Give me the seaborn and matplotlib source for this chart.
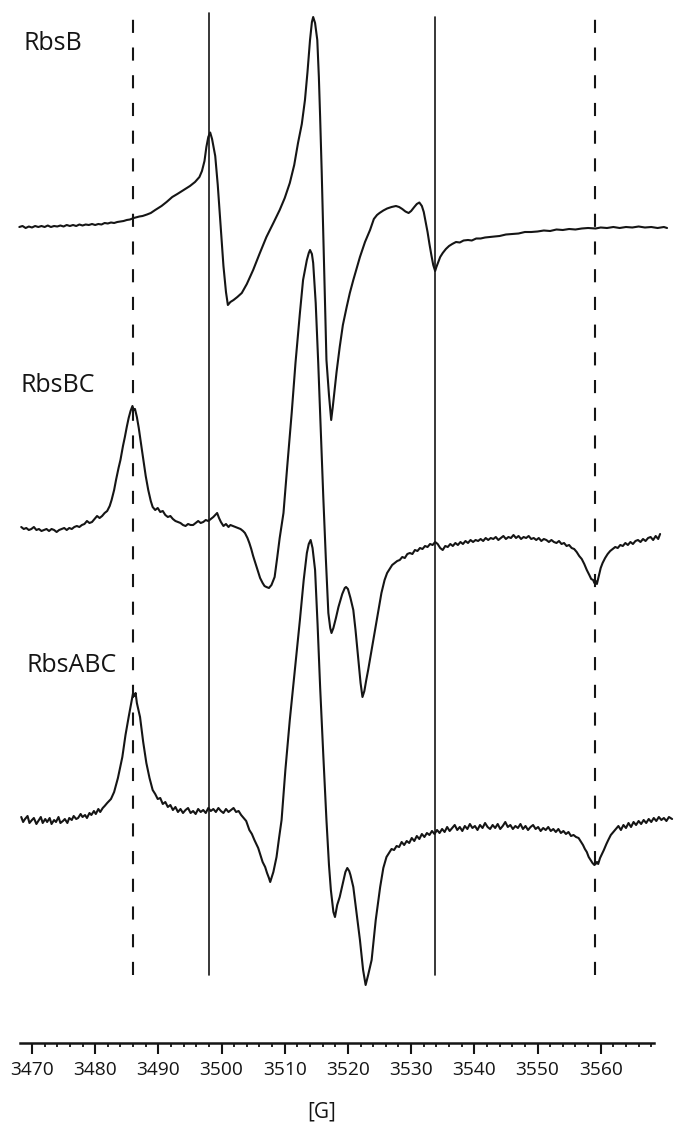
import numpy as np
import pandas as pd
import seaborn as sns
import matplotlib.pyplot as plt
from matplotlib.ticker import FixedLocator

# (field in G, first-derivative signal in a.u., 0 = baseline)
rbsb_points = [
    (3468.0, 0), (3468.5, 1), (3469.0, -1), (3469.5, 0.5), (3470, -0.5), (3470.5, 1), (3471, 0),
    (3471.5, 1), (3472, 0), (3472.5, 1.5), (3473, 0), (3473.5, 1), (3474, 0.5), (3474.5, 1.5),
    (3475, 0.5), (3475.5, 2), (3476, 1), (3476.5, 2), (3477, 1), (3477.5, 2.5), (3478, 1.5),
    (3478.5, 2.5), (3479, 2), (3479.5, 3), (3480, 2), (3480.5, 3), (3481, 2.5), (3481.5, 4),
    (3482, 3.5), (3482.5, 4.5), (3483, 4), (3483.5, 5), (3484, 5.5), (3484.5, 6), (3485, 7),
    (3485.5, 7.5), (3486.1, 9), (3487, 10.5), (3487.5, 11), (3488.2, 12.5), (3488.8, 14),
    (3489.5, 17), (3490.5, 21), (3491.3, 25), (3492.2, 30), (3493.0, 33), (3494, 37), (3495, 41),
    (3495.8, 45), (3496.5, 50), (3496.9, 56), (3497.3, 66), (3497.6, 80), (3497.9, 90),
    (3498.2, 94.5), (3498.5, 88), (3499.0, 71), (3499.4, 42), (3499.75, 11), (3500.3, -39),
    (3500.7, -65), (3501.0, -78), (3501.4, -75), (3501.9, -73), (3502.5, -70), (3503.2, -66),
    (3504.0, -57), (3505.0, -43), (3506.0, -27), (3507.1, -10), (3508.2, 4), (3509.2, 17),
    (3510.0, 29), (3510.8, 44), (3511.5, 62), (3512.1, 84), (3512.7, 103), (3513.2, 127),
    (3513.6, 155), (3514.0, 187), (3514.3, 205), (3514.5, 210), (3514.8, 204), (3515.15, 187),
    (3515.4, 150), (3515.6, 110), (3515.85, 55), (3516.1, -6), (3516.35, -70), (3516.6, -133),
    (3517.0, -168), (3517.35, -193), (3517.6, -180), (3517.8, -168), (3518.2, -145),
    (3518.7, -120), (3519.2, -98), (3519.8, -80), (3520.3, -66), (3520.85, -53), (3521.4, -41),
    (3521.9, -30), (3522.7, -15), (3523.5, -3), (3524.1, 8), (3524.6, 12), (3525.0, 14),
    (3525.6, 16.5), (3526.2, 18.5), (3526.9, 20), (3527.6, 21), (3528.1, 20), (3528.6, 18),
    (3529.1, 15.5), (3529.6, 14), (3530.0, 16), (3530.5, 20), (3530.9, 23), (3531.3, 24.5),
    (3531.7, 21), (3532.0, 15), (3532.3, 5), (3532.6, -5), (3532.9, -17), (3533.2, -28),
    (3533.5, -38), (3533.8, -44), (3534.0, -40), (3534.3, -35), (3534.6, -30), (3535.0, -26),
    (3535.5, -22), (3536, -19), (3536.5, -17), (3537.1, -15), (3537.7, -15.5), (3538.3, -13.5),
    (3539, -13), (3539.6, -13.5), (3540.3, -11.5), (3541, -11.5), (3541.7, -10.5), (3542.4, -10),
    (3543.2, -9.5), (3544, -9), (3545, -7.5), (3546, -7), (3547, -6.5), (3548, -5), (3549, -5),
    (3550, -4.5), (3551, -3.5), (3552, -4), (3553, -2.5), (3554, -3), (3555, -2), (3556, -2.5),
    (3557, -1.5), (3558, -1), (3559.2, -1.5), (3560, -0.5), (3561, -1), (3562, 0), (3563, -1),
    (3564, 0), (3565, -0.5), (3566, 0.5), (3567, -0.5), (3568, 0), (3569, -1), (3570, 0),
    (3570.5, -1),
]

rbsbc_points = [
    (3468.3, 1), (3468.7, -1), (3469.1, 0), (3469.5, -2), (3469.9, -1), (3470.3, 1), (3470.7, -2),
    (3471.1, -1), (3471.5, -3), (3471.9, -2), (3472.3, -1), (3472.7, -3), (3473.1, -1),
    (3473.5, -2), (3473.9, -4), (3474.3, -2), (3474.7, -1), (3475.1, 0), (3475.5, -2),
    (3475.9, 0), (3476.3, -1), (3476.7, 1), (3477.1, 2), (3477.5, 1), (3477.9, 3), (3478.3, 4),
    (3478.7, 7), (3479.1, 5), (3479.5, 6), (3479.9, 9), (3480.3, 12), (3480.7, 10), (3481.1, 12),
    (3481.5, 15), (3481.9, 17), (3482.3, 22), (3482.6, 28), (3483.0, 38), (3483.3, 48),
    (3483.7, 60), (3484.0, 68), (3484.4, 82), (3484.7, 91), (3485.0, 101), (3485.3, 110),
    (3485.6, 117), (3485.9, 122), (3486.1, 118), (3486.3, 119), (3486.6, 111), (3486.9, 100),
    (3487.1, 91), (3487.4, 78), (3487.7, 65), (3488.0, 52), (3488.4, 38), (3488.8, 27),
    (3489.1, 21), (3489.5, 18), (3489.9, 20), (3490.3, 16), (3490.7, 17), (3491.1, 13),
    (3491.5, 11), (3491.9, 12), (3492.3, 9), (3492.7, 7), (3493.1, 6), (3493.5, 5), (3493.9, 3),
    (3494.3, 2), (3494.7, 4), (3495.1, 3), (3495.5, 3), (3495.9, 5), (3496.3, 7), (3496.7, 5),
    (3497.1, 6), (3497.5, 8), (3497.9, 7), (3498.3, 9), (3498.7, 11), (3499.0, 13), (3499.3, 15),
    (3499.6, 10), (3499.9, 6), (3500.3, 2), (3500.7, 4), (3501.1, 1), (3501.4, 3), (3501.8, 2),
    (3502.2, 1), (3502.6, 0), (3503.0, -1), (3503.4, -3), (3503.7, -5), (3504.1, -10),
    (3504.4, -15), (3504.7, -21), (3505.0, -28), (3505.4, -36), (3505.8, -44), (3506.1, -50),
    (3506.5, -55), (3506.8, -58), (3507.1, -59), (3507.5, -60), (3507.9, -57), (3508.4, -49),
    (3508.8, -30), (3509.2, -10), (3509.8, 15), (3510.4, 62), (3511.1, 115), (3511.7, 165),
    (3512.4, 215), (3512.9, 248), (3513.5, 268), (3513.8, 275), (3514.0, 278), (3514.3, 274),
    (3514.5, 265), (3514.9, 225), (3515.3, 165), (3515.7, 98), (3516.1, 31), (3516.5, -30),
    (3516.9, -85), (3517.2, -100), (3517.4, -105), (3517.7, -100), (3518.1, -90), (3518.5, -79),
    (3519.1, -66), (3519.5, -60), (3519.7, -59), (3520.0, -61), (3520.4, -70), (3520.85, -82),
    (3521.2, -102), (3521.65, -132), (3522.0, -155), (3522.3, -169), (3522.6, -163),
    (3522.9, -152), (3523.2, -142), (3523.8, -120), (3524.55, -92), (3525.3, -65), (3525.8, -52),
    (3526.2, -45), (3526.6, -41), (3527.0, -37), (3527.4, -35), (3527.8, -33), (3528.2, -32),
    (3528.6, -29), (3529.0, -30), (3529.4, -26), (3529.8, -25), (3530.2, -26), (3530.6, -22),
    (3531.0, -23), (3531.4, -20), (3531.8, -21), (3532.2, -18), (3532.6, -19), (3533.0, -16),
    (3533.4, -17), (3533.8, -14), (3534.2, -16), (3534.6, -20), (3535.0, -22), (3535.4, -18),
    (3535.8, -19), (3536.2, -16), (3536.6, -18), (3537.0, -15), (3537.4, -17), (3537.8, -14),
    (3538.2, -16), (3538.6, -13), (3539.0, -15), (3539.4, -12), (3539.8, -14), (3540.2, -12),
    (3540.6, -13), (3541.0, -11), (3541.4, -13), (3541.8, -10), (3542.2, -12), (3542.6, -10),
    (3543.0, -11), (3543.4, -9), (3543.8, -12), (3544.2, -10), (3544.6, -8), (3545.0, -11),
    (3545.4, -9), (3545.8, -10), (3546.2, -7), (3546.6, -10), (3547.0, -8), (3547.4, -11),
    (3547.8, -9), (3548.2, -10), (3548.6, -8), (3549.0, -11), (3549.4, -10), (3549.8, -12),
    (3550.2, -10), (3550.6, -13), (3551.0, -11), (3551.4, -12), (3551.8, -14), (3552.2, -12),
    (3552.6, -14), (3553.0, -15), (3553.4, -13), (3553.8, -16), (3554.2, -15), (3554.6, -18),
    (3555.0, -17), (3555.4, -20), (3555.8, -21), (3556.2, -24), (3556.6, -28), (3557.0, -31),
    (3557.4, -36), (3557.8, -42), (3558.2, -47), (3558.5, -51), (3558.8, -52), (3559.0, -55),
    (3559.2, -53), (3559.4, -56), (3559.7, -48), (3560.0, -40), (3560.3, -35), (3560.7, -30),
    (3561.1, -26), (3561.5, -23), (3561.9, -21), (3562.3, -19), (3562.7, -20), (3563.1, -17),
    (3563.5, -18), (3563.9, -15), (3564.3, -17), (3564.7, -14), (3565.1, -16), (3565.5, -13),
    (3565.9, -12), (3566.3, -14), (3566.7, -11), (3567.1, -13), (3567.5, -10), (3567.9, -9),
    (3568.3, -12), (3568.7, -8), (3569.1, -11), (3569.4, -6),
]

rbsabc_points = [
    (3468.3, 3), (3468.6, -2), (3468.9, 1), (3469.3, 4), (3469.6, -3), (3470.0, 0), (3470.3, 2),
    (3470.7, -4), (3471.0, -1), (3471.4, 3), (3471.7, -3), (3472.1, 1), (3472.4, -2),
    (3472.8, 2), (3473.1, -4), (3473.5, 0), (3473.8, -2), (3474.2, 3), (3474.5, -3), (3474.9, -1),
    (3475.2, 1), (3475.6, -3), (3475.9, 2), (3476.3, 0), (3476.6, 4), (3477.0, 1), (3477.3, 2),
    (3477.7, 6), (3478.0, 3), (3478.4, 5), (3478.7, 2), (3479.1, 7), (3479.4, 5), (3479.8, 9),
    (3480.1, 6), (3480.5, 11), (3480.8, 8), (3481.2, 12), (3481.5, 14), (3481.9, 17),
    (3482.5, 21), (3483.0, 28), (3483.6, 42), (3484.3, 63), (3484.8, 85), (3485.3, 103),
    (3485.8, 120), (3486.0, 127), (3486.2, 124), (3486.4, 127), (3486.6, 117), (3487.1, 103),
    (3487.6, 78), (3488.1, 57), (3488.6, 42), (3489.1, 30), (3489.5, 26), (3489.9, 21),
    (3490.3, 22), (3490.7, 16), (3491.1, 18), (3491.5, 13), (3491.9, 15), (3492.3, 10),
    (3492.7, 13), (3493.1, 8), (3493.5, 11), (3493.9, 7), (3494.3, 10), (3494.7, 12), (3495.1, 7),
    (3495.5, 9), (3495.9, 6), (3496.3, 11), (3496.7, 8), (3497.1, 10), (3497.5, 7), (3497.9, 12),
    (3498.3, 9), (3498.7, 11), (3499.1, 8), (3499.5, 12), (3499.9, 9), (3500.3, 7), (3500.7, 11),
    (3501.1, 8), (3501.5, 10), (3501.9, 12), (3502.3, 8), (3502.7, 9), (3503.1, 5), (3503.5, 2),
    (3503.9, -1), (3504.4, -10), (3504.8, -14), (3505.2, -20), (3505.8, -28), (3506.2, -36),
    (3506.5, -42), (3506.9, -47), (3507.2, -53), (3507.5, -58), (3507.7, -62), (3508.0, -56),
    (3508.2, -52), (3508.7, -37), (3509.1, -18), (3509.5, 0), (3510.1, 50), (3510.8, 100),
    (3511.6, 150), (3512.4, 200), (3513.0, 240), (3513.5, 267), (3513.8, 276), (3514.1, 280),
    (3514.4, 272), (3514.8, 250), (3515.2, 195), (3515.6, 133), (3516.1, 65), (3516.6, 0),
    (3517.0, -45), (3517.3, -70), (3517.7, -92), (3517.95, -97), (3518.3, -85), (3518.7, -77),
    (3519.3, -60), (3519.6, -52), (3519.9, -48), (3520.2, -51), (3520.4, -55), (3520.85, -67),
    (3521.4, -95), (3521.9, -120), (3522.4, -150), (3522.8, -165), (3523.2, -155),
    (3523.75, -140), (3524.1, -118), (3524.4, -100), (3525.1, -67), (3525.6, -48), (3526.1, -37),
    (3526.5, -33), (3526.9, -29), (3527.3, -30), (3527.7, -26), (3528.1, -27), (3528.5, -22),
    (3528.9, -25), (3529.3, -21), (3529.7, -23), (3530.1, -18), (3530.5, -21), (3530.9, -16),
    (3531.3, -19), (3531.7, -14), (3532.1, -17), (3532.5, -13), (3532.9, -15), (3533.3, -11),
    (3533.7, -14), (3534.1, -10), (3534.5, -13), (3534.9, -9), (3535.3, -12), (3535.7, -7),
    (3536.1, -11), (3536.5, -8), (3536.9, -5), (3537.3, -10), (3537.7, -7), (3538.1, -11),
    (3538.5, -6), (3538.9, -9), (3539.3, -4), (3539.7, -8), (3540.1, -6), (3540.5, -10),
    (3540.9, -5), (3541.3, -8), (3541.7, -3), (3542.1, -7), (3542.5, -9), (3542.9, -5),
    (3543.3, -8), (3543.7, -4), (3544.1, -9), (3544.5, -6), (3544.9, -2), (3545.3, -7),
    (3545.7, -5), (3546.1, -9), (3546.5, -6), (3546.9, -8), (3547.3, -4), (3547.7, -9),
    (3548.1, -6), (3548.5, -10), (3548.9, -7), (3549.3, -5), (3549.7, -9), (3550.1, -7),
    (3550.5, -11), (3550.9, -8), (3551.3, -10), (3551.7, -7), (3552.1, -11), (3552.5, -9),
    (3552.9, -12), (3553.3, -9), (3553.7, -13), (3554.1, -11), (3554.5, -14), (3554.9, -12),
    (3555.3, -16), (3555.7, -15), (3556.1, -17), (3556.5, -18), (3556.9, -22), (3557.2, -25),
    (3557.5, -29), (3557.8, -32), (3558.1, -37), (3558.4, -40), (3558.7, -43), (3559.0, -45),
    (3559.2, -44), (3559.4, -42), (3559.6, -44), (3559.9, -38), (3560.2, -34), (3560.5, -30),
    (3560.9, -24), (3561.2, -20), (3561.6, -15), (3562.0, -12), (3562.4, -9), (3562.8, -6),
    (3563.2, -10), (3563.6, -5), (3564.0, -8), (3564.4, -3), (3564.8, -7), (3565.2, -2),
    (3565.6, -5), (3566.0, -1), (3566.4, -4), (3566.8, 0), (3567.2, -3), (3567.6, 1), (3568.0, -2),
    (3568.4, 2), (3568.8, -1), (3569.2, 3), (3569.6, 0), (3570.0, 2), (3570.4, -1), (3570.8, 3),
    (3571.3, 1),
]

sample_names = ["RbsB", "RbsBC", "RbsABC"]
stack_offsets = [898, 597, 305]          # vertical offset of each spectrum
dashed_fields = [3486.0, 3559.1]
solid_fields = [3498.0, 3533.7]
major_ticks = [3470, 3480, 3490, 3500, 3510, 3520, 3530, 3540, 3550, 3560]

frames = []
for name, pts, off in zip(sample_names, [rbsb_points, rbsbc_points, rbsabc_points], stack_offsets):
    fld, sig = zip(*pts)
    frames.append(pd.DataFrame({"field": fld, "y": np.array(sig) + off, "sample": name}))
df = pd.concat(frames, ignore_index=True)

sns.set_style("white")
plt.rcParams["font.family"] = ["Open Sans", "DejaVu Sans"]

ink = "#151515"
fig = plt.figure(figsize=(6.74, 11.25), dpi=100)
ax = fig.add_axes([0, 0, 1, 1])

sns.lineplot(data=df, x="field", y="y", units="sample", estimator=None, sort=False,
             color=ink, linewidth=1.5, ax=ax, legend=False)

for f in dashed_fields:
    ax.axvline(f, ymin=150 / 1125, ymax=1108 / 1125, color=ink, linewidth=1.5,
               linestyle=(0, (6.3, 7.0)))
for f, top in zip(solid_fields, [1112, 1108]):
    ax.axvline(f, ymin=150 / 1125, ymax=top / 1125, color=ink, linewidth=1.2)

label_pos = [(3468.6, 1081), (3468.2, 740), (3469.1, 459)]
for name, (lx, ly) in zip(sample_names, label_pos):
    ax.text(lx, ly, name, fontsize=18, ha="left", va="center", color=ink)

ax.set_xlim(3464.94, 3571.6)
ax.set_ylim(0, 1125)
for s in ["top", "left", "right"]:
    ax.spines[s].set_visible(False)
ax.spines["bottom"].set_position(("data", 82))
ax.spines["bottom"].set_bounds(3468.1, 3568.4)
ax.spines["bottom"].set_linewidth(1.8)
ax.spines["bottom"].set_color(ink)

ax.set_xticks(major_ticks)
ax.xaxis.set_minor_locator(FixedLocator(np.arange(3472, 3569, 2)))
ax.tick_params(axis="x", which="major", direction="out", length=8, width=1.5,
               colors=ink, labelsize=13.8, pad=5, bottom=True)
ax.tick_params(axis="x", which="minor", direction="out", length=3, width=1.3,
               colors=ink, bottom=True)
ax.set_yticks([])
ax.set_xlabel("")
ax.set_ylabel("")
ax.text(3515.9, 1125 - 1112, "[G]", fontsize=15, ha="center", va="center", color=ink)

fig.savefig("out.png", dpi=100)
